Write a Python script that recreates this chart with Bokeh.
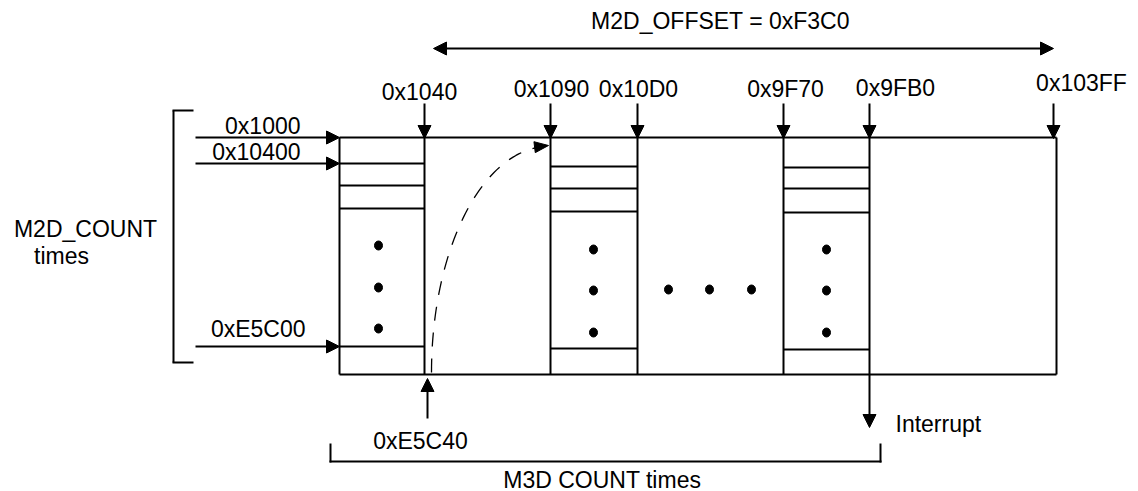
import numpy as np
from bokeh.plotting import figure
from bokeh.models import Range1d
from bokeh.core.properties import value
from bokeh.embed import file_html
from bokeh.resources import INLINE

FONT = "Liberation Sans"
FS = "23px"

# ---- content ----
top_addresses = ["0x1040", "0x1090", "0x10D0", "0x9F70", "0x9FB0", "0x103FF"]
left_addresses = ["0x1000", "0x10400", "0xE5C00"]
offset_label = "M2D_OFFSET = 0xF3C0"
m2d_label = ["M2D_COUNT", "times"]
m3d_label = "M3D  COUNT times"
start_label = "0xE5C40"
interrupt_label = "Interrupt"

# ---- layout (page pixels) ----
col_x = [424, 550, 637, 783, 869, 1053]
top_label_x = [419, 551, 638, 785, 895, 1081]
top_label_y = [91, 88, 88, 88, 87, 82]
left_arrow_y = [137, 163, 346]
left_label_right = [300, 300, 305]
left_label_y = [125, 151, 328]

rect_l, rect_r, rect_t, rect_b = 339, 1056, 137, 374
blocks = [(339, 424, [163, 185, 208, 346]),
          (550, 637, [166, 188, 211, 348]),
          (783, 869, [167, 188, 212, 349])]
dot_cols = [(378, [245, 287, 328]), (593, [249, 290, 332]), (826, [249, 290, 332])]
mid_dots_x = [668, 709, 751]
mid_dots_y = 289

W_, H_ = 1138, 491
p = figure(width=W_, height=H_, output_backend="svg", toolbar_location=None,
           x_range=Range1d(0, W_), y_range=Range1d(H_, 0), min_border=0)
p.axis.visible = False
p.grid.visible = False
p.outline_line_color = None
p.background_fill_color = "white"
p.border_fill_color = "white"

LW = 2


def seg(x0, y0, x1, y1, lw=LW, dash="solid"):
    p.line([x0, x1], [y0, y1], line_color="black", line_width=lw, line_dash=dash)


heads_x, heads_y = [], []


def head(tx, ty, dx, dy, L=13, W=13):
    n = np.hypot(dx, dy)
    ux, uy = dx / n, dy / n
    bx, by = tx - ux * L, ty - uy * L
    px, py = -uy, ux
    heads_x.append([tx, bx + px * W / 2, bx - px * W / 2])
    heads_y.append([ty, by + py * W / 2, by - py * W / 2])


def label(x, y, t, align="center"):
    p.text([x], [y], text=[t], text_font=value(FONT), text_font_size=FS,
           text_align=align, text_baseline="middle", text_color="black")


# main rectangle
seg(rect_l, rect_t, rect_r, rect_t)
seg(rect_l, rect_b, rect_r, rect_b)
seg(rect_l, rect_t, rect_l, rect_b)
seg(rect_r, rect_t, rect_r, rect_b)
for cx in col_x[:5]:
    seg(cx, rect_t, cx, rect_b)
for (x0, x1, ys) in blocks:
    for yy in ys:
        seg(x0, yy, x1, yy)

# dots
dx, dy = [], []
for (x, ys) in dot_cols:
    for yy in ys:
        dx.append(x); dy.append(yy)
for x in mid_dots_x:
    dx.append(x); dy.append(mid_dots_y)
p.ellipse(dx, dy, width=8, height=9, fill_color="black", line_color="black")

# top down arrows + labels
for cx, lx, ly, t in zip(col_x, top_label_x, top_label_y, top_addresses):
    seg(cx, 103, cx, rect_t - 4)
    head(cx, rect_t + 1, 0, 1)
    label(lx, ly, t)

# offset double arrow
seg(440, 48, 1045, 48)
head(433, 48, -1, 0)
head(1053, 48, 1, 0)
label(720, 20, offset_label)

# left arrows + labels
for yy, lr, ly, t in zip(left_arrow_y, left_label_right, left_label_y, left_addresses):
    seg(195, yy, rect_l - 6, yy)
    head(rect_l, yy, 1, 0)
    label(lr, ly, t, align="right")

# left bracket
seg(173, 110, 173, 362)
seg(172, 110, 193, 110)
seg(172, 362, 193, 362)
label(85, 228, m2d_label[0])
label(61, 255, m2d_label[1])

# dashed curve (quarter ellipse)
th = np.linspace(np.pi, np.pi / 2 + 0.08, 60)
cx0, cy0, rx, ry = 548, 372, 117, 226
p.line(cx0 + rx * np.cos(th), cy0 - ry * np.sin(th), line_color="black",
       line_width=1.3, line_dash="14 12")
head(548, 145, 1, -0.12, L=14, W=11)

# bottom start arrow
seg(427, 418, 427, 386)
head(427, 378, 0, -1)
label(420, 440, start_label)

# interrupt arrow
seg(869, rect_b, 869, 418)
head(869, 427, 0, 1)
label(895, 423, interrupt_label, align="left")

# bottom bracket
seg(330, 443, 330, 462)
seg(329, 461, 881, 461)
seg(880, 443, 880, 462)
label(605, 479, m3d_label)

p.patches(heads_x, heads_y, fill_color="black", line_color="black", line_width=1)

open("out.html", "w").write(file_html(p, INLINE))
